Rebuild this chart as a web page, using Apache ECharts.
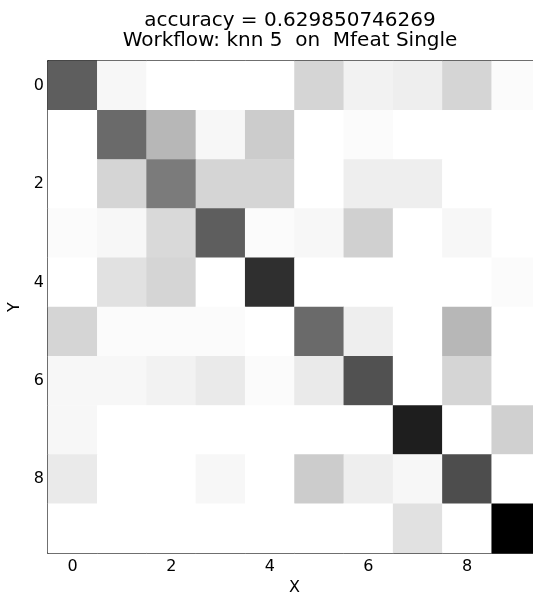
<!DOCTYPE html>
<html>
<head>
<meta charset="utf-8">
<script src="https://cdn.jsdelivr.net/npm/echarts@6/dist/echarts.min.js"></script>
<style>
  html, body { margin: 0; padding: 0; background: #ffffff; }
  #chart { width: 533px; height: 597px; }
</style>
</head>
<body>
<div id="chart"></div>
<script>
// Confusion matrix of the knn-5 workflow (rows = Y true class, columns = X predicted class)
const classLabels = ['0', '1', '2', '3', '4', '5', '6', '7', '8', '9'];
const row0 = [38, 2, 0, 0, 0, 10, 3, 4, 10, 1];
const row1 = [0, 35, 17, 2, 12, 0, 1, 0, 0, 0];
const row2 = [0, 10, 31, 10, 10, 0, 4, 4, 0, 0];
const row3 = [1, 2, 9, 38, 1, 2, 11, 0, 2, 0];
const row4 = [0, 7, 10, 0, 49, 0, 0, 0, 0, 1];
const row5 = [10, 1, 1, 1, 0, 35, 4, 0, 17, 0];
const row6 = [2, 2, 3, 5, 1, 5, 41, 0, 10, 0];
const row7 = [2, 0, 0, 0, 0, 0, 0, 53, 0, 11];
const row8 = [5, 0, 0, 2, 0, 12, 4, 2, 42, 0];
const row9 = [0, 0, 0, 0, 0, 0, 0, 7, 0, 60];
const titleLine1 = 'accuracy = 0.629850746269';
const titleLine2 = 'Workflow: knn 5  on  Mfeat Single';

const rows = [row0, row1, row2, row3, row4, row5, row6, row7, row8, row9];
const cells = [];
rows.forEach((r, y) => r.forEach((v, x) => cells.push([x, y, v])));
const maxVal = Math.max(...cells.map(c => c[2]));

const FONT = 'DejaVu Sans';
const chart = echarts.init(document.getElementById('chart'), null, { renderer: 'canvas' });

const tickStyle = { show: true, inside: true, length: 5, interval: 1, alignWithLabel: true,
  lineStyle: { color: '#000', width: 1 } };
const lineStyle = { show: true, lineStyle: { color: '#000', width: 1.5 } };

chart.setOption({
  animation: false,
  backgroundColor: '#ffffff',
  graphic: [{
    type: 'text', left: 290 - 200, top: 11,
    style: {
      text: titleLine1 + '\n' + titleLine2, width: 400, align: 'center',
      x: 200, textAlign: 'center',
      font: '20px "DejaVu Sans"', fill: '#000', lineHeight: 20
    }
  }],
  // the plot runs past the right edge of the canvas on purpose
  grid: { left: 48, top: 61, width: 493, height: 492, containLabel: false, outerBoundsMode: 'none' },
  xAxis: [{
    type: 'category', data: classLabels, position: 'bottom',
    name: 'X', nameLocation: 'middle', nameGap: 23,
    nameTextStyle: { fontFamily: FONT, fontSize: 16, color: '#000' },
    axisLine: lineStyle, axisTick: tickStyle,
    axisLabel: { interval: 1, margin: 6, fontFamily: FONT, fontSize: 16, color: '#000' },
    splitLine: { show: false }
  }, {
    type: 'category', data: classLabels, position: 'top',
    axisLine: lineStyle, axisTick: tickStyle,
    axisLabel: { show: false }, splitLine: { show: false }
  }],
  yAxis: [{
    type: 'category', data: classLabels, inverse: true, position: 'left',
    name: 'Y', nameLocation: 'middle', nameGap: 20, nameRotate: 90,
    nameTextStyle: { fontFamily: FONT, fontSize: 16, color: '#000' },
    axisLine: lineStyle, axisTick: tickStyle,
    axisLabel: { interval: 1, margin: 4, fontFamily: FONT, fontSize: 16, color: '#000' },
    splitLine: { show: false }
  }],
  visualMap: {
    show: false, type: 'continuous', min: 0, max: maxVal, dimension: 2,
    inRange: { color: ['#ffffff', '#000000'] }
  },
  series: [{
    type: 'heatmap', xAxisIndex: 0, yAxisIndex: 0,
    data: cells, itemStyle: { borderWidth: 0 },
    emphasis: { disabled: true }
  }]
});
</script>
</body>
</html>
